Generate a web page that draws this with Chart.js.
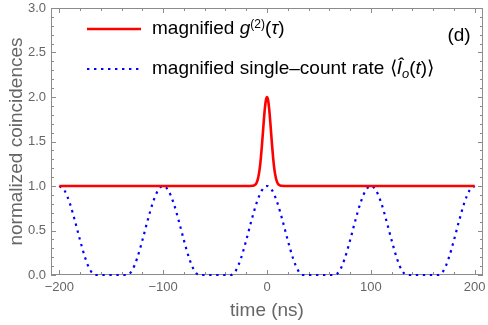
<!DOCTYPE html>
<html><head><meta charset="utf-8">
<script src="https://cdn.jsdelivr.net/npm/chart.js@4/dist/chart.umd.min.js"></script>
<style>html,body{margin:0;padding:0;background:#fff}#wrap{width:488px;height:325px;position:relative}</style>
</head><body><div id="wrap"><canvas id="c" width="488" height="325"></canvas></div>
<script>
const FONT = '"Liberation Sans", Arial, sans-serif';

// ---- data ----
const xTickValues = [-200, -100, 0, 100, 200];
const yTickValues = [0, 0.5, 1, 1.5, 2, 2.5, 3];

const g2Times = [-200, -20, -14, -13, -12, -11, -10, -9, -8, -7, -6, -5, -4, -3, -2, -1, 0,
  1, 2, 3, 4, 5, 6, 7, 8, 9, 10, 11, 12, 13, 14, 20, 200];
const g2Values = [1, 1, 1.002, 1.004, 1.009, 1.019, 1.037, 1.069, 1.122, 1.199, 1.306, 1.44, 1.591, 1.744, 1.877, 1.968, 2.0,
  1.968, 1.877, 1.744, 1.591, 1.44, 1.306, 1.199, 1.122, 1.069, 1.037, 1.019, 1.009, 1.004, 1.002, 1, 1];

const rateTimes = [-200,-195,-190,-185,-180,-175,-170,-165,-160,-155,-150,-145,-140,-135,-130,-125,-120,-115,-110,-105,
  -100,-95,-90,-85,-80,-75,-70,-65,-60,-55,-50,-45,-40,-35,-30,-25,-20,-15,-10,-5,
  0,5,10,15,20,25,30,35,40,45,50,55,60,65,70,75,80,85,90,95,
  100,105,110,115,120,125,130,135,140,145,150,155,160,165,170,175,180,185,190,195,200];
const rateValues = [1,0.95,0.81,0.61,0.39,0.19,0.05,0,0,0,0,0,0,0,0.05,0.19,0.39,0.61,0.81,0.95,
  1,0.95,0.81,0.61,0.39,0.19,0.05,0,0,0,0,0,0,0,0.05,0.19,0.39,0.61,0.81,0.95,
  1,0.95,0.81,0.61,0.39,0.19,0.05,0,0,0,0,0,0,0,0.05,0.19,0.39,0.61,0.81,0.95,
  1,0.95,0.81,0.61,0.39,0.19,0.05,0,0,0,0,0,0,0,0.05,0.19,0.39,0.61,0.81,0.95,1];

const RED = '#ff0000', BLUE = '#0000ff', FRAME = '#8c8c8c', TXT = '#666666';
const DASH = [2.4, 4.6];

function drawRuns(ctx, x, y, runs) {
  for (const r of runs) {
    ctx.font = (r.italic ? 'italic ' : '') + r.size + 'px ' + FONT;
    ctx.fillText(r.t, x, y + (r.dy || 0));
    x += ctx.measureText(r.t).width + (r.after || 0);
  }
}

const framePlugin = {
  id: 'frameTicks',
  beforeDatasetsDraw(chart) {
    const ctx = chart.ctx, a = chart.chartArea;
    const xs = chart.scales.x, ys = chart.scales.y;
    ctx.save();
    ctx.strokeStyle = FRAME; ctx.lineWidth = 1;
    ctx.strokeRect(a.left + 0.5, a.top + 0.5, a.right - a.left - 1, a.bottom - a.top - 1);
    ctx.beginPath();
    for (let v = -200; v <= 200; v += 20) {
      const len = (v % 100 === 0) ? 5 : 3;
      const px = Math.round(xs.getPixelForValue(v)) + 0.5;
      ctx.moveTo(px, a.bottom); ctx.lineTo(px, a.bottom - len);
      ctx.moveTo(px, a.top); ctx.lineTo(px, a.top + len);
    }
    for (let i = 0; i <= 30; i++) {
      const v = i / 10;
      const len = (i % 5 === 0) ? 5 : 3;
      const py = Math.round(ys.getPixelForValue(v)) + 0.5;
      ctx.moveTo(a.left, py); ctx.lineTo(a.left + len, py);
      ctx.moveTo(a.right, py); ctx.lineTo(a.right - len, py);
    }
    ctx.stroke();
    ctx.restore();
  },
  afterDraw(chart) {
    const ctx = chart.ctx;
    ctx.save();
    // legend lines
    ctx.lineWidth = 2.6; ctx.strokeStyle = RED;
    ctx.beginPath(); ctx.moveTo(87, 29); ctx.lineTo(141, 29); ctx.stroke();
    ctx.lineWidth = 2.2; ctx.strokeStyle = BLUE; ctx.setLineDash(DASH);
    ctx.beginPath(); ctx.moveTo(87, 69); ctx.lineTo(141, 69); ctx.stroke();
    ctx.setLineDash([]);
    ctx.fillStyle = '#000'; ctx.textBaseline = 'alphabetic'; ctx.textAlign = 'left';
    drawRuns(ctx, 152, 34, [
      {t: 'magnified ', size: 19},
      {t: 'g', size: 19, italic: true},
      {t: '(2)', size: 12, dy: -6},
      {t: '(', size: 19},
      {t: 'τ', size: 19, italic: true},
      {t: ')', size: 19}
    ]);
    drawRuns(ctx, 152, 74, [
      {t: 'magnified single–count rate ', size: 19},
      {t: '⟨', size: 19},
      {t: 'Î', size: 19, italic: true},
      {t: 'o', size: 13, italic: true, dy: 4},
      {t: '(', size: 19},
      {t: 't', size: 19, italic: true},
      {t: ')', size: 19},
      {t: '⟩', size: 19}
    ]);
    ctx.font = '19px ' + FONT; ctx.textAlign = 'center';
    ctx.fillText('(d)', 459, 41);
    ctx.restore();
  }
};

new Chart(document.getElementById('c'), {
  type: 'line',
  data: {
    datasets: [
      {
        label: 'magnified g(2)(τ)',
        data: g2Times.map((t, i) => ({x: t, y: g2Values[i]})),
        borderColor: RED, borderWidth: 2.6, pointRadius: 0,
        cubicInterpolationMode: 'monotone', fill: false, order: 1, clip: 4
      },
      {
        label: 'magnified single–count rate ⟨Î o(t)⟩',
        data: rateTimes.map((t, i) => ({x: t, y: rateValues[i]})),
        borderColor: BLUE, borderWidth: 2.2, borderDash: DASH, borderCapStyle: 'butt',
        pointRadius: 0, cubicInterpolationMode: 'monotone', fill: false, order: 2, clip: 4
      }
    ]
  },
  options: {
    responsive: false, animation: false, devicePixelRatio: 1,
    layout: {padding: {left: 0, top: 8, right: 5, bottom: 0}},
    plugins: {legend: {display: false}, tooltip: {enabled: false}},
    scales: {
      x: {
        type: 'linear', min: -208, max: 208,
        grid: {display: false, drawTicks: false}, border: {display: false},
        afterBuildTicks: s => { s.ticks = xTickValues.map(v => ({value: v})); },
        afterFit: s => { s.height = 50; s.paddingLeft = 0; s.paddingRight = 0; },
        ticks: {
          autoSkip: false, maxRotation: 0, padding: 5, color: TXT,
          font: {family: FONT, size: 13},
          callback: v => (v < 0 ? '\u2212' + Math.abs(v) : String(v))
        },
        title: {display: true, text: 'time (ns)', color: TXT, font: {family: FONT, size: 19},
          padding: {top: 0, bottom: 3}}
      },
      y: {
        type: 'linear', min: 0, max: 3,
        grid: {display: false, drawTicks: false}, border: {display: false},
        afterBuildTicks: s => { s.ticks = yTickValues.map(v => ({value: v})); },
        afterFit: s => { s.width = 51; s.paddingTop = 0; s.paddingBottom = 0; },
        ticks: {
          autoSkip: false, padding: 5, color: TXT,
          font: {family: FONT, size: 13},
          callback: v => Number(v).toFixed(1)
        },
        title: {display: true, text: 'normalized coincidences', color: TXT, font: {family: FONT, size: 19},
          padding: {top: 5, bottom: 0}}
      }
    }
  },
  plugins: [framePlugin]
});
</script>
</body></html>
